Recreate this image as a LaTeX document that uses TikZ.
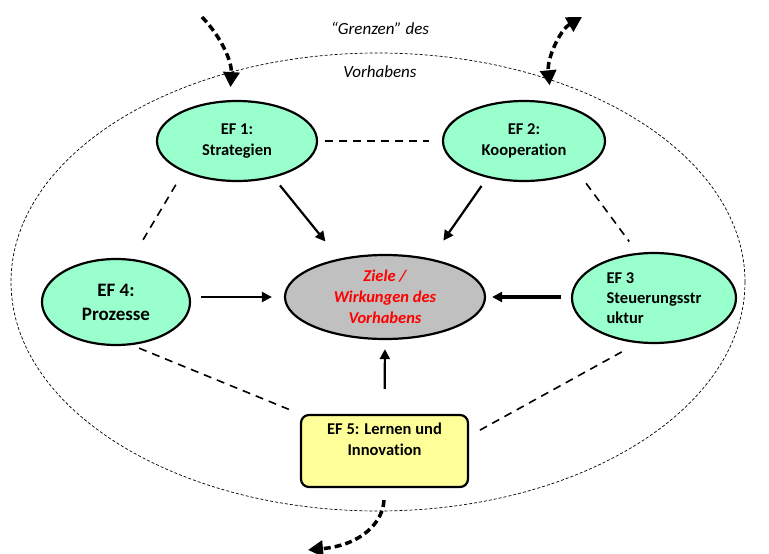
\documentclass[tikz,border=0pt]{standalone}
\usepackage{fontspec}
\setmainfont{Carlito}[Ligatures=NoCommon]
\usetikzlibrary{arrows.meta, shapes.geometric, positioning, calc}

\definecolor{mint}{RGB}{153,255,204}
\definecolor{lightyellow}{RGB}{255,255,153}
\definecolor{zielgray}{RGB}{192,192,192}

\tikzset{
    efnode/.style={ellipse, draw=black, line width=2.2pt, fill=mint, inner sep=0pt, align=center, font=\bfseries\fontsize{16.5}{21}\selectfont},
    arr/.style={line width=2.2pt, -{Triangle[length=10pt,width=10pt]}},
    link/.style={line width=1.6pt, dash pattern=on 8pt off 6pt},
    flow/.style={line width=3.5pt, dash pattern=on 7pt off 4pt, -{Triangle[length=15pt,width=16pt]}},
    boundary/.style={line width=0.7pt, dash pattern=on 3pt off 2pt},
}

\begin{document}
\begin{tikzpicture}[x=1pt, y=-1pt]
        \useasboundingbox (0,0) rectangle (769,554);

        \draw[boundary] (378,282) ellipse [x radius=367, y radius=229];
        \node[font=\itshape\fontsize{17}{20}\selectfont] (grenzen) at (380,28) {``Grenzen'' des};
        \node[font=\itshape\fontsize{17}{20}\selectfont] (vorhabens) at (380,72) {Vorhabens};

        \node[efnode, minimum width=160pt, minimum height=80pt] (ef1) at (237,141) {EF 1:\\Strategien};
        \node[efnode, minimum width=162pt, minimum height=80pt] (ef2) at (524,141) {EF 2:\\Kooperation};
        \node[efnode, minimum width=148pt, minimum height=86pt, font=\bfseries\fontsize{19}{24}\selectfont] (ef4) at (116,302) {EF 4:\\Prozesse};
        \node[efnode, minimum width=164pt, minimum height=90pt, align=left, font=\bfseries\fontsize{16.5}{20}\selectfont] (ef3) at (654,298) {EF 3\\Steuerungsstr\\uktur};
        \node[ellipse, draw=black, line width=2.2pt, fill=zielgray, inner sep=0pt, minimum width=200pt, minimum height=84pt, align=center, text=red, font=\bfseries\itshape\fontsize{16.5}{21}\selectfont] (ziel) at (385,297) {Ziele /\\Wirkungen des\\Vorhabens};
        \node[draw=black, line width=2.2pt, fill=lightyellow, rounded corners=8pt, minimum width=167pt, minimum height=72pt, align=center, font=\bfseries\fontsize{16.5}{21}\selectfont] (ef5) at (384.5,451) {EF 5: Lernen und\\Innovation\\[2pt]};

        % Wirkungen
        \draw[arr, shorten <=10pt, shorten >=22pt] (ef1.-45) -- (ziel.140);
        \draw[arr, shorten <=10pt, shorten >=22pt] (ef2.-135) -- (ziel.40);
        \draw[arr, shorten <=10pt, shorten >=12pt] (ef4.east |- ziel.west) -- (ziel.west);
        \draw[arr, line width=3.2pt, shorten <=10pt, shorten >=6pt] (ef3.west |- ziel.east) -- (ziel.east);
        \draw[arr, shorten <=25pt, shorten >=9pt] (ef5.north) -- (ziel.south);

        % Wechselwirkungen
        \draw[link, shorten <=7pt, shorten >=13pt] (ef1.east) -- (ef2.west);
        \draw[link, shorten <=15pt, shorten >=20pt] (ef1.-150) -- (ef4.70);
        \draw[link, shorten <=14pt, shorten >=14pt] (ef2.-30) -- (ef3.110);
        \draw[link, shorten <=8pt, shorten >=12pt] (ef4.-70) -- (ef5.north west);
        \draw[link, shorten <=18pt, shorten >=8pt] (ef3.-110) -- (ef5.10);

        % Austausch mit dem Umfeld
        \coordinate (inL) at (202,17);
        \coordinate (outR) at (582,17);
        \coordinate (outB) at (308,550);
        \draw[flow, shorten >=13pt] (inL) .. controls (222,38) and (232,62) .. (ef1.100);
        \draw[flow, {Triangle[length=15pt,width=16pt]}-{Triangle[length=15pt,width=16pt]}, shorten >=17pt] (outR) .. controls (560,30) and (547,58) .. (ef2.55);
        \draw[flow, shorten <=12pt] (ef5.south) .. controls (383,522) and (362,545) .. (outB);

      \end{tikzpicture}
\end{document}
